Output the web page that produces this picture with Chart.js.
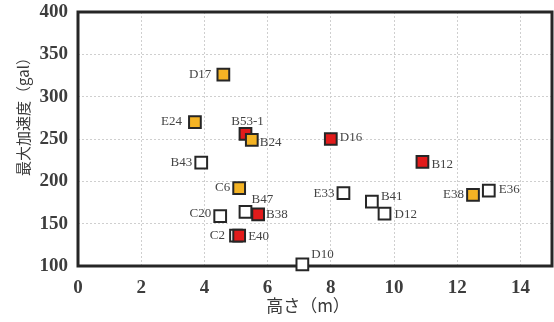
<!DOCTYPE html>
<html>
<head>
<meta charset="utf-8">
<script src="https://cdn.jsdelivr.net/npm/chart.js@4/dist/chart.umd.min.js"></script>
<style>
  html, body { margin: 0; padding: 0; background: #fff; }
  #wrap { width: 554px; height: 322px; }
</style>
</head>
<body>
<div id="wrap"><canvas id="c" width="554" height="322"></canvas></div>
<script>
// Building name, height (m) and peak acceleration (gal); later entries draw on top.
const names  = ['D17', 'E24', 'B53-1', 'B24', 'B43', 'D16', 'B12', 'C6', 'C20', 'B47', 'B38', 'C2', 'E40', 'E33', 'B41', 'D12', 'E38', 'E36', 'D10'];
const heights = [4.6, 3.7, 5.3, 5.5, 3.9, 8.0, 10.9, 5.1, 4.5, 5.3, 5.7, 5.0, 5.1, 8.4, 9.3, 9.7, 12.5, 13.0, 7.1];
const accels  = [326, 270, 256, 249, 222, 250, 223, 192, 159, 164, 161, 136, 136, 186, 176, 162, 184, 189, 102];
const kinds   = ['yellow', 'yellow', 'red', 'yellow', 'white', 'red', 'red', 'yellow', 'white', 'white', 'red', 'white', 'red', 'white', 'white', 'white', 'yellow', 'white', 'white'];

// Axis ticks
const xTicks = [0, 2, 4, 6, 8, 10, 12, 14];
const yTicks = [100, 150, 200, 250, 300, 350, 400];

// Label placement beside each marker: [dx, dy, align]
const labelPlacement = {
  'D17': [-12, 0, 'right'], 'E24': [-13, 0, 'right'], 'B53-1': [2, -12, 'center'],
  'B24': [8, 3, 'left'], 'B43': [-9, 0, 'right'], 'D16': [9, -1, 'left'],
  'B12': [9, 3, 'left'], 'C6': [-9, -1, 'right'], 'C20': [-9, -2, 'right'],
  'B47': [6, -12, 'left'], 'B38': [8, 0, 'left'], 'C2': [-11, 0, 'right'],
  'E40': [9, 1, 'left'], 'E33': [-9, 0, 'right'], 'B41': [9, -5, 'left'],
  'D12': [10, 1, 'left'], 'E38': [-9, 0, 'right'], 'E36': [10, -1, 'left'],
  'D10': [9, -10, 'left']
};

const fillColor = { red: '#e31b1b', yellow: '#f4b324', white: '#ffffff' };

const framePlugin = {
  id: 'frameAndText',
  beforeDatasetsDraw(chart) {
    const { ctx, chartArea: a } = chart;
    ctx.save();
    ctx.strokeStyle = '#262626';
    ctx.lineWidth = 3;
    ctx.strokeRect(a.left, a.top, a.right - a.left, a.bottom - a.top);
    ctx.restore();
  },
  afterDatasetsDraw(chart) {
    const { ctx } = chart;
    const meta = chart.getDatasetMeta(0);
    ctx.save();
    ctx.font = '13px "Liberation Serif", serif';
    ctx.fillStyle = '#444';
    ctx.textBaseline = 'middle';
    meta.data.forEach((pt, i) => {
      const p = labelPlacement[names[i]];
      ctx.textAlign = p[2];
      ctx.fillText(names[i], pt.x + p[0], pt.y + p[1]);
    });
    ctx.restore();
  },
  afterDraw(chart) {
    const { ctx } = chart;
    ctx.save();
    ctx.fillStyle = '#3a3a3a';
    ctx.textAlign = 'center';
    ctx.textBaseline = 'middle';
    ctx.font = '17px "Noto Sans CJK JP", sans-serif';
    ctx.fillText('高さ（m）', 308, 306);
    ctx.translate(23, 113);
    ctx.rotate(-Math.PI / 2);
    ctx.font = '15px "Noto Sans CJK JP", sans-serif';
    ctx.fillText('最大加速度（gal）', 0, 0);
    ctx.restore();
  }
};

const tickFont = { family: '"Liberation Serif", serif', size: 19, weight: 'bold' };

new Chart(document.getElementById('c'), {
  type: 'scatter',
  data: {
    datasets: [{
      data: heights.map((h, i) => ({ x: h, y: accels[i] })),
      pointStyle: 'rect',
      pointRadius: 8.3,
      pointHoverRadius: 8.3,
      borderWidth: 2,
      borderColor: '#262626',
      backgroundColor: kinds.map(k => fillColor[k]),
      clip: false
    }]
  },
  options: {
    responsive: false,
    animation: false,
    events: [],
    layout: { autoPadding: false, padding: { top: 12, right: 2, left: 0, bottom: 0 } },
    plugins: { legend: { display: false }, tooltip: { enabled: false } },
    scales: {
      x: {
        type: 'linear', min: 0, max: 15,
        afterBuildTicks(scale) { scale.ticks = xTicks.map(v => ({ value: v })); },
        afterFit(scale) { scale.height = 56; scale.paddingLeft = 0; scale.paddingRight = 0; },
        grid: { color: '#cfcfcf', lineWidth: 1, drawTicks: false },
        border: { display: false, dash: [2, 2] },
        ticks: { font: tickFont, color: '#3d3d3d', padding: 11, maxRotation: 0 }
      },
      y: {
        type: 'linear', min: 100, max: 400,
        afterBuildTicks(scale) { scale.ticks = yTicks.map(v => ({ value: v })); },
        afterFit(scale) { scale.width = 78; scale.paddingTop = 0; scale.paddingBottom = 0; },
        grid: { color: '#cfcfcf', lineWidth: 1, drawTicks: false },
        border: { display: false, dash: [2, 2] },
        ticks: { font: tickFont, color: '#3d3d3d', padding: 10 }
      }
    }
  },
  plugins: [framePlugin]
});
</script>
</body>
</html>
